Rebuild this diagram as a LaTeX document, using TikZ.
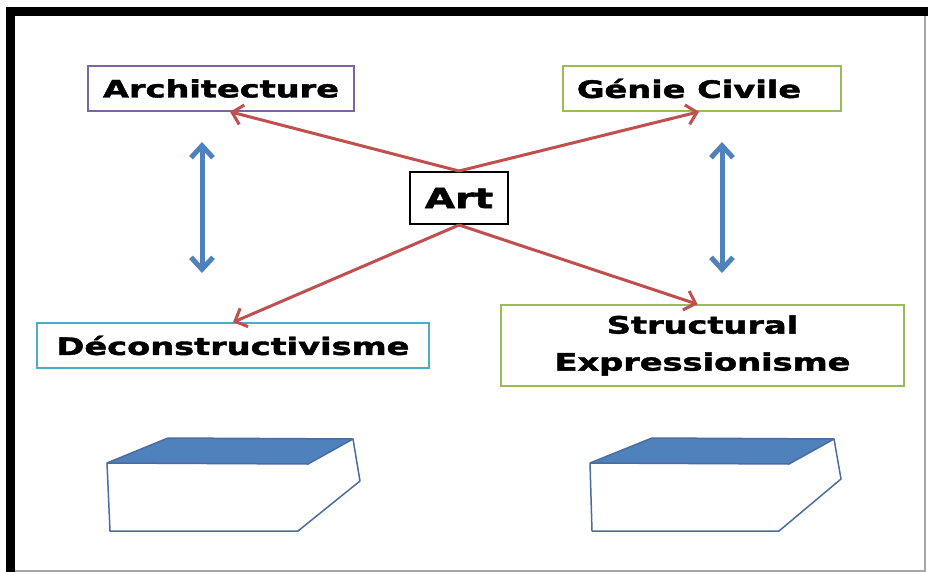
\documentclass[tikz,border=0pt]{standalone}
\usepackage{fontspec}
\setmainfont{DejaVu Sans}
\newfontfamily\heavyfont[FakeBold=1.6]{DejaVu Sans Bold}
\usetikzlibrary{arrows.meta,calc}
\definecolor{redarr}{HTML}{C0504D}
\definecolor{bluearr}{HTML}{4F81BD}
\definecolor{purpleb}{HTML}{8064A2}
\definecolor{greenb}{HTML}{9BBB59}
\definecolor{cyanb}{HTML}{4BACC6}
\definecolor{boxline}{HTML}{4A6D9E}
\newcommand{\wtxt}[1]{\scalebox{1.4}[1]{#1}}
\tikzset{
  lbl/.style={draw, line width=1.5pt, inner sep=0pt, align=center,
    font=\heavyfont\fontsize{24}{37}\selectfont, text=black},
  redarrow/.style={draw=redarr, line width=3pt, -{Straight Barb[length=10pt,width=20pt,line width=3pt]}},
  bluearrow/.style={draw=bluearr, line width=5pt, {Straight Barb[length=12pt,width=22pt,line width=5pt]}-{Straight Barb[length=12pt,width=22pt,line width=5pt]}},
  solid3d/.style={draw=boxline, line width=1.5pt, line join=round},
}
\begin{document}
\begin{tikzpicture}[x=1pt,y=-1pt]
\useasboundingbox (0,0) rectangle (928,572);
\fill[white] (0,0) rectangle (928,572);
% frame
\fill[black] (6,7) rectangle (928,16);
\fill[black] (6,7) rectangle (15,572);
\draw[gray!70, line width=1.5pt] (925,16) -- (925,571) -- (15,571);

% nodes
\node[lbl, draw=purpleb, minimum width=266pt, minimum height=45pt] (arch) at (221,88.5) {\wtxt{Architecture}};
\node[lbl, draw=greenb, minimum width=278pt, minimum height=45pt] (genie) at (702,88.5) {\hspace*{-26pt}\wtxt{Génie Civile}};
\node[lbl, draw=black, line width=2pt, minimum width=98pt, minimum height=52pt, font=\heavyfont\fontsize{28}{30}\selectfont] (art) at (459,198) {\wtxt{Art}};
\node[lbl, draw=cyanb, minimum width=392pt, minimum height=45pt] (decon) at (233,345.5) {\wtxt{Déconstructivisme}};
\node[lbl, draw=greenb, minimum width=403pt, minimum height=81pt] (struct) at (702.5,345.5) {\wtxt{Structural}\\\wtxt{Expressionisme}};

% red arrows
\draw[redarrow] (art.north) -- ($(arch.south)+(9,0)$);
\draw[redarrow] (art.north) -- ($(genie.south)+(-3,0)$);
\draw[redarrow] (art.south) -- (decon.north);
\draw[redarrow] (art.south) -- ($(struct.north)+(-5,0)$);

% blue double arrows
\coordinate (la1) at (202,142);
\coordinate (la2) at (202,273);
\coordinate (ra1) at (722,142);
\coordinate (ra2) at (722,273);
\draw[bluearrow] (la1) -- (la2);
\draw[bluearrow] (ra1) -- (ra2);

% 3D boxes
\fill[white] (107,463) -- (110,531) -- (298,531) -- (360,481) -- (353,439) -- (168,438) -- cycle;
\fill[bluearr] (107,463) -- (168,438) -- (353,439) -- (308,464) -- cycle;
\draw[solid3d] (107,463) -- (110,531) -- (298,531) -- (360,481) -- (353,439) -- (168,438) -- cycle;
\draw[solid3d] (107,463) -- (308,464) -- (353,439);

\fill[white] (590,463) -- (592,531) -- (779,531) -- (841,479) -- (834,439) -- (652,438) -- cycle;
\fill[bluearr] (590,463) -- (652,438) -- (834,439) -- (789,464) -- cycle;
\draw[solid3d] (590,463) -- (592,531) -- (779,531) -- (841,479) -- (834,439) -- (652,438) -- cycle;
\draw[solid3d] (590,463) -- (789,464) -- (834,439);
\end{tikzpicture}
\end{document}
